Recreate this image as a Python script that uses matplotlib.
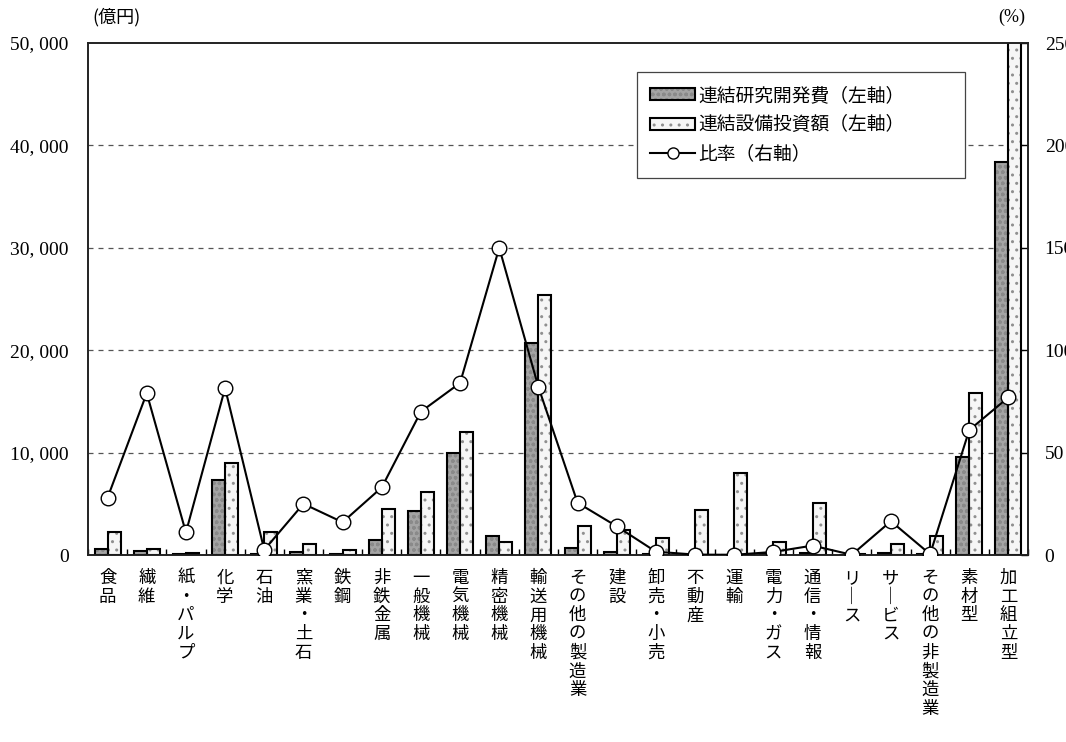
import numpy as np
import matplotlib
matplotlib.use('Agg')
import matplotlib.pyplot as plt
from matplotlib.ticker import FixedLocator
from matplotlib.patches import Patch, Rectangle
from matplotlib.lines import Line2D
from matplotlib.legend_handler import HandlerBase

plt.rcParams['font.family'] = ['Noto Sans CJK JP', 'DejaVu Sans']
plt.rcParams['hatch.linewidth'] = 1.0

# データ
categories = ['食品', '繊維', '紙・パルプ', '化学', '石油', '窯業・土石', '鉄鋼',
              '非鉄金属', '一般機械', '電気機械', '精密機械', '輸送用機械',
              'その他の製造業', '建設', '卸売・小売', '不動産', '運輸',
              '電力・ガス', '通信・情報', 'リース', 'サービス',
              'その他の非製造業', '素材型', '加工組立型']

# 連結研究開発費（億円）
rd = [600, 400, 50, 7300, 100, 250, 100, 1450, 4300, 10000, 1900, 20700,
      700, 320, 100, 20, 10, 100, 200, 10, 150, 50, 9600, 38400]
# 連結設備投資額（億円）
capex = [2200, 550, 150, 9000, 2200, 1050, 500, 4500, 6200, 12000, 1250, 25400,
         2850, 2450, 1700, 4350, 8050, 1250, 5100, 100, 1050, 1900, 15850, 51000]
# 比率（%）
ratio = [28, 79, 11, 81.5, 2.5, 25, 16, 33, 70, 84, 150, 82,
         25.5, 14, 1.6, 0.2, 0.1, 1.5, 4.6, 0.1, 16.5, 0.4, 61, 77]

left_ticks = [0, 10000, 20000, 30000, 40000, 50000]
right_ticks = [0, 50, 100, 150, 200, 250]

RD_FACE = '#a4a4a4'
RD_HATCH = '#8a8a8a'
CX_FACE = '#f6f6f6'
CX_HATCH = '#909090'


def vertical(s):
    s = s.replace('ー', '｜')
    return '\n'.join(list(s))


x = np.arange(len(categories))
w = 0.33

fig = plt.figure(figsize=(10.66, 7.42), dpi=100)
ax = fig.add_axes([88 / 1066, 1 - 555 / 742, 940 / 1066, 512 / 742])
ax2 = ax.twinx()

for yv in left_ticks[1:-1]:
    ax.axhline(yv, color='#555555', lw=0.9, ls=(0, (4, 4)), zorder=0)

# 研究開発費: 灰色の網
ax.bar(x - w, rd, width=w, align='edge', facecolor=RD_FACE,
       edgecolor=RD_HATCH, lw=0, hatch='ooo', zorder=2)
ax.bar(x - w, rd, width=w, align='edge', facecolor='none',
       edgecolor='black', lw=1.5, zorder=3)
# 設備投資額: 点模様
ax.bar(x, capex, width=w, align='edge', facecolor=CX_FACE,
       edgecolor=CX_HATCH, lw=0, hatch='..', zorder=2)
ax.bar(x, capex, width=w, align='edge', facecolor='none',
       edgecolor='black', lw=1.5, zorder=3)

ax2.plot(x, ratio, color='black', lw=1.5, marker='o', markersize=10.5,
         markerfacecolor='white', markeredgecolor='black',
         markeredgewidth=1.0, zorder=5)

ax.set_xlim(-0.5, len(categories) - 0.5)
ax.set_ylim(0, 50000)
ax2.set_ylim(0, 250)

ax.set_xticks(x)
ax.set_xticklabels([vertical(c) for c in categories], fontsize=12.5,
                   linespacing=1.05, va='top')
ax.xaxis.set_minor_locator(FixedLocator(np.arange(-0.5, len(categories), 1.0)))
ax.tick_params(axis='x', which='major', length=0, pad=10)
ax.tick_params(axis='x', which='minor', direction='in', length=4, width=1)

ax.set_yticks(left_ticks)
ax.set_yticklabels([f'{v:,}'.replace(',', ', ') for v in left_ticks],
                   fontsize=14, family='Liberation Serif')
ax.tick_params(axis='y', length=0, pad=14)

ax2.set_yticks(right_ticks)
ax2.set_yticklabels([str(v) for v in right_ticks], fontsize=14,
                    family='Liberation Serif')
ax2.tick_params(axis='y', direction='in', length=5, width=1, pad=12)

for a in (ax, ax2):
    for s in a.spines.values():
        s.set_linewidth(1.2)
        s.set_color('#222222')

ax2.set_zorder(ax.get_zorder() + 1)
ax2.patch.set_visible(False)

fig.text(92 / 1066, 1 - 17 / 742, '(億円)', fontsize=13, ha='left', va='center',
         family=['Noto Sans CJK JP'])
fig.text(1012 / 1066, 1 - 17 / 742, '(%)', fontsize=13, ha='center', va='center',
         family='Liberation Serif')


class BarHandler(HandlerBase):
    def __init__(self, face, hcol, hatch):
        super().__init__()
        self.face, self.hcol, self.hatch = face, hcol, hatch

    def create_artists(self, legend, orig, xd, yd, width, height, fontsize, trans):
        r1 = Rectangle((-xd, -yd), width, height, facecolor=self.face,
                       edgecolor=self.hcol, lw=0, hatch=self.hatch, transform=trans)
        r2 = Rectangle((-xd, -yd), width, height, facecolor='none',
                       edgecolor='black', lw=1.5, transform=trans)
        return [r1, r2]


h1 = Patch(label='rd')
h2 = Patch(label='cx')
h3 = Line2D([], [], color='black', lw=1.5, marker='o', markersize=8,
            markerfacecolor='white', markeredgecolor='black')
leg = ax2.legend([h1, h2, h3], ['連結研究開発費（左軸）', '連結設備投資額（左軸）', '比率（右軸）'],
                 handler_map={h1: BarHandler(RD_FACE, RD_HATCH, 'ooo'),
                              h2: BarHandler(CX_FACE, CX_HATCH, '..')},
                 loc='upper left', bbox_to_anchor=(0.584, 0.5, 0.349, 0.444),
                 mode='expand', fontsize=13.5,
                 frameon=True, fancybox=False, edgecolor='#444444',
                 framealpha=1, handlelength=2.4, handleheight=0.6,
                 handletextpad=0.15, borderpad=0.7, labelspacing=0.45,
                 borderaxespad=0)
leg.get_frame().set_linewidth(0.9)
leg.set_zorder(10)
# 凡例の左余白
leg._legend_box.align = 'left'
for vp in leg._legend_handle_box.get_children():
    pass

fig.savefig('out.png', dpi=100)
